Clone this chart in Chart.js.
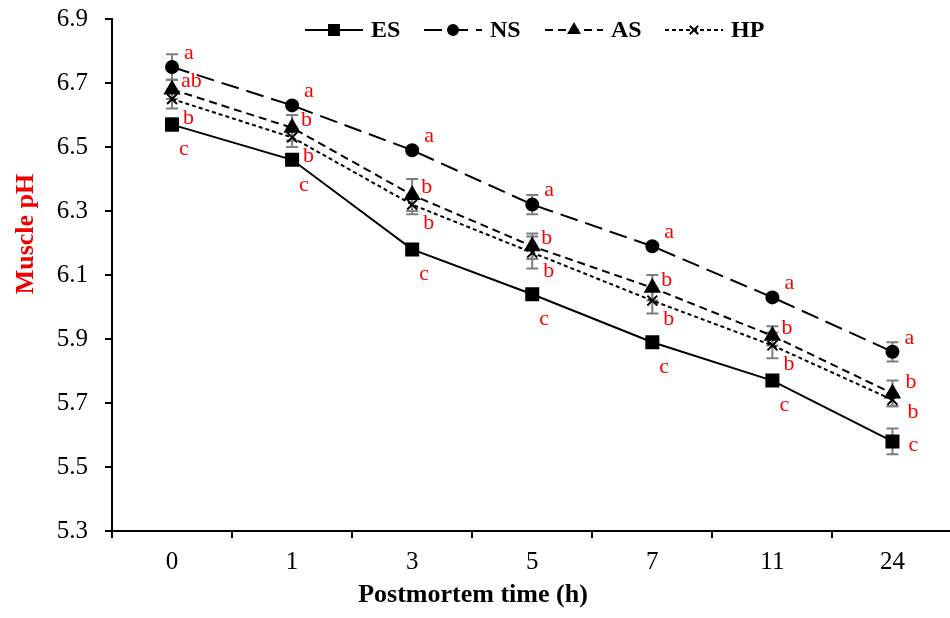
<!DOCTYPE html>
<html>
<head>
<meta charset="utf-8">
<script src="https://cdn.jsdelivr.net/npm/chart.js@4.4.0/dist/chart.umd.min.js"></script>
<style>
  html, body { margin: 0; padding: 0; background: #fff; }
  #wrap { width: 950px; height: 618px; overflow: hidden; }
  #inner { width: 963px; height: 618px; }
</style>
</head>
<body>
<div id="wrap"><div id="inner"><canvas id="phChart"></canvas></div></div>
<script>
// Postmortem time (h)
var times = ["0", "1", "3", "5", "7", "11", "24"];

// Muscle pH, mean values
var esVals = [6.57, 6.46, 6.18, 6.04, 5.89, 5.77, 5.58];
var nsVals = [6.75, 6.63, 6.49, 6.32, 6.19, 6.03, 5.86];
var asVals = [6.68, 6.56, 6.35, 6.19, 6.06, 5.91, 5.73];
var hpVals = [6.65, 6.53, 6.32, 6.17, 6.02, 5.88, 5.71];

// standard errors
var esErr = [0.02, 0.01, 0.01, 0.01, 0.01, 0.01, 0.04];
var nsErr = [0.04, 0.01, 0.01, 0.03, 0.01, 0.01, 0.03];
var asErr = [0.03, 0.04, 0.05, 0.04, 0.04, 0.03, 0.04];
var hpErr = [0.03, 0.03, 0.03, 0.05, 0.04, 0.04, 0.02];

// significance letters
var esLetters = ["c", "c", "c", "c", "c", "c", "c"];
var nsLetters = ["a", "a", "a", "a", "a", "a", "a"];
var asLetters = ["ab", "b", "b", "b", "b", "b", "b"];
var hpLetters = ["b", "b", "b", "b", "b", "b", "b"];

var yTicks = [5.3, 5.5, 5.7, 5.9, 6.1, 6.3, 6.5, 6.7, 6.9];

var serif = "'Liberation Serif', 'Times New Roman', serif";

// error bars, drawn under the markers
var errorBars = {
    id: 'errorBars',
    beforeDatasetsDraw: function(chart) {
        var ctx = chart.ctx;
        var y = chart.scales.y;
        ctx.save();
        ctx.strokeStyle = '#7f7f7f';
        ctx.lineWidth = 2;
        chart.data.datasets.forEach(function(ds, i) {
            var meta = chart.getDatasetMeta(i);
            meta.data.forEach(function(pt, j) {
                var v = ds.data[j], e = ds.errors[j];
                var top = y.getPixelForValue(v + e);
                var bot = y.getPixelForValue(v - e);
                ctx.beginPath();
                ctx.moveTo(pt.x, top); ctx.lineTo(pt.x, bot);
                ctx.moveTo(pt.x - 6, top); ctx.lineTo(pt.x + 6, top);
                ctx.moveTo(pt.x - 6, bot); ctx.lineTo(pt.x + 6, bot);
                ctx.stroke();
            });
        });
        ctx.restore();
    }
};

// red letters next to the points
var letterLabels = {
    id: 'letterLabels',
    afterDatasetsDraw: function(chart) {
        var ctx = chart.ctx;
        ctx.save();
        ctx.fillStyle = '#ff0000';
        ctx.font = '22px ' + serif;
        ctx.textAlign = 'left';
        ctx.textBaseline = 'middle';
        chart.data.datasets.forEach(function(ds, i) {
            var meta = chart.getDatasetMeta(i);
            meta.data.forEach(function(pt, j) {
                var off = ds.letterOffset;
                if (j === meta.data.length - 1 && ds.lastOffset) off = ds.lastOffset;
                ctx.fillText(ds.letters[j], pt.x + off[0], pt.y + off[1]);
            });
        });
        ctx.restore();
    }
};

// legend on top (line sample + marker + bold name) and the two axis titles
var lineLegend = {
    id: 'lineLegend',
    afterDraw: function(chart) {
        var ctx = chart.ctx;
        var starts = [305, 424, 545, 665];
        var yy = 30;
        ctx.save();
        chart.data.datasets.forEach(function(ds, i) {
            var x0 = starts[i], x1 = x0 + 58;
            ctx.strokeStyle = '#000';
            ctx.lineWidth = 2;
            ctx.setLineDash(ds.borderDash || []);
            ctx.beginPath();
            ctx.moveTo(x0, yy); ctx.lineTo(x1, yy);
            ctx.stroke();
            ctx.setLineDash([]);
            Chart.helpers.drawPoint(ctx, {
                pointStyle: ds.pointStyle,
                radius: ds.legendRadius,
                borderWidth: 2
            }, (x0 + x1) / 2, yy);
            ctx.fillStyle = '#000';
            ctx.font = 'bold 24px ' + serif;
            ctx.textAlign = 'left';
            ctx.textBaseline = 'middle';
            ctx.fillText(ds.label, x1 + 8, yy + 1);
        });

        ctx.font = 'bold 26px ' + serif;
        ctx.textAlign = 'center';
        ctx.textBaseline = 'alphabetic';
        ctx.fillStyle = '#000';
        ctx.fillText('Postmortem time (h)', 473, 602);

        ctx.translate(33, 234);
        ctx.rotate(-Math.PI / 2);
        ctx.fillStyle = '#f00000';
        ctx.fillText('Muscle pH', 0, 0);
        ctx.restore();
    }
};

var chartData = {
    labels: times,
    datasets: [{
        label: 'ES',
        data: esVals,
        errors: esErr,
        letters: esLetters,
        letterOffset: [7, 25],
        lastOffset: [16, 4],
        pointStyle: 'rect',
        pointRadius: 8.5,
        legendRadius: 7,
        borderDash: []
    }, {
        label: 'NS',
        data: nsVals,
        errors: nsErr,
        letters: nsLetters,
        letterOffset: [12, -14],
        pointStyle: 'circle',
        pointRadius: 6,
        legendRadius: 5,
        borderDash: [18, 8]
    }, {
        label: 'AS',
        data: asVals,
        errors: asErr,
        letters: asLetters,
        letterOffset: [9, -8],
        lastOffset: [13, -11],
        pointStyle: 'triangle',
        pointRadius: 8,
        legendRadius: 6,
        borderDash: [8, 5]
    }, {
        label: 'HP',
        data: hpVals,
        errors: hpErr,
        letters: hpLetters,
        letterOffset: [11, 19],
        lastOffset: [15, 12],
        pointStyle: 'crossRot',
        pointRadius: 7,
        legendRadius: 6,
        borderDash: [4, 3]
    }]
};

chartData.datasets.forEach(function(ds) {
    ds.borderColor = '#000';
    ds.backgroundColor = '#000';
    ds.pointBackgroundColor = '#000';
    ds.pointBorderColor = '#000';
    ds.pointBorderWidth = 2;
    ds.borderWidth = 2;
    ds.tension = 0;
    ds.fill = false;
});

var ctx = document.getElementById('phChart');

var config = {
    type: 'line',
    data: chartData,
    options: {
        responsive: true,
        maintainAspectRatio: false,
        animation: false,
        layout: { padding: { top: 19, right: 0, left: 0, bottom: 0 } },
        plugins: {
            legend: { display: false },
            tooltip: { enabled: false }
        },
        scales: {
            x: {
                offset: true,
                grid: {
                    offset: true,
                    drawOnChartArea: false,
                    color: '#000',
                    lineWidth: 2,
                    tickLength: 7
                },
                border: { color: '#000', width: 2 },
                ticks: {
                    color: '#000',
                    font: { family: serif, size: 25 },
                    padding: 9
                },
                afterFit: function(scale) {
                    scale.height = 87;
                    scale.paddingLeft = 0;
                    scale.paddingRight = 0;
                }
            },
            y: {
                min: 5.3,
                max: 6.9,
                afterBuildTicks: function(scale) {
                    scale.ticks = yTicks.map(function(v) { return { value: v }; });
                },
                grid: {
                    drawOnChartArea: false,
                    color: '#000',
                    lineWidth: 2,
                    tickLength: 7
                },
                border: { color: '#000', width: 2 },
                ticks: {
                    color: '#000',
                    font: { family: serif, size: 25 },
                    padding: 17,
                    callback: function(v) { return v.toFixed(1); }
                },
                afterFit: function(scale) {
                    scale.width = 112;
                    scale.paddingTop = 0;
                    scale.paddingBottom = 0;
                }
            }
        }
    },
    plugins: [errorBars, letterLabels, lineLegend]
};

var phChart = new Chart(ctx, config);
</script>
</body>
</html>
